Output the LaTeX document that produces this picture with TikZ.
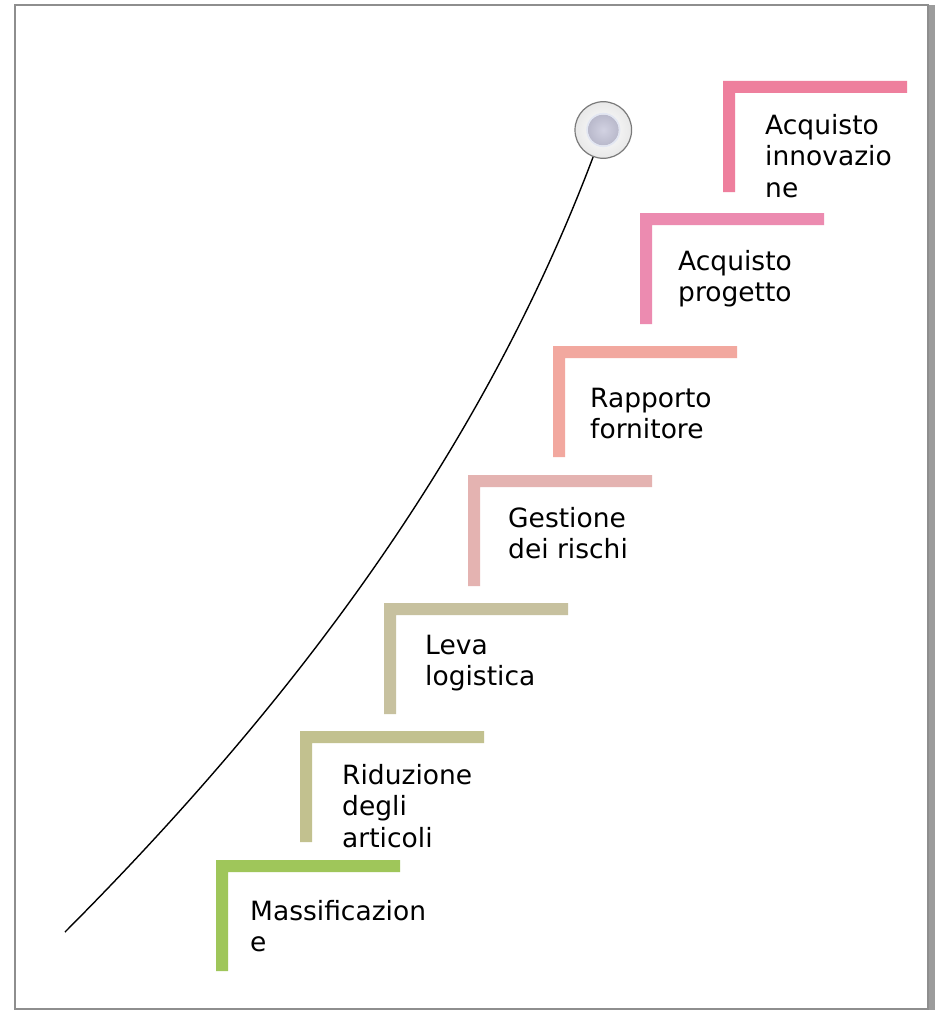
\documentclass[tikz,border=0pt]{standalone}
\usepackage{fontspec}
\setmainfont{DejaVu Sans}
\definecolor{sA}{HTML}{9FC65A}
\definecolor{sB}{HTML}{C2C18F}
\definecolor{sC}{HTML}{C7C19F}
\definecolor{sD}{HTML}{E4B3B1}
\definecolor{sE}{HTML}{F2A89F}
\definecolor{sF}{HTML}{EC8BB0}
\definecolor{sG}{HTML}{EE7F9D}
\definecolor{framegray}{HTML}{8E8E8E}
\definecolor{shadowgray}{HTML}{9C9C9C}
\definecolor{knobrim}{HTML}{7A7A7A}
\definecolor{knobin}{HTML}{D2D2E2}
\definecolor{knobout}{HTML}{A4A4B8}
\definecolor{knobring}{HTML}{E2E6F2}
\tikzset{
  lbl/.style={font=\fontsize{26.5}{31.5}\selectfont, align=left, inner sep=0pt, anchor=base west, text=black},
  stair/.style={fill=#1, draw=none},
  knob/.style={circle, minimum size=56.6pt, inner sep=0pt, draw=knobrim, line width=1.2pt,
    inner color=white, outer color=gray!18,
    path picture={\shade[inner color=knobin, outer color=knobout] (path picture bounding box.center) circle[radius=15.5pt];
                  \draw[knobring, line width=1.6pt] (path picture bounding box.center) circle[radius=16.3pt];}},
  trail/.style={draw=black, line width=1.4pt}
}
\begin{document}
\begin{tikzpicture}[x=1pt,y=-1pt]
\useasboundingbox (0,0) rectangle (936,1011);
\fill[white] (0,0) rectangle (936,1011);
% frame
\fill[shadowgray] (927.5,5) rectangle (935,1010);
\draw[framegray, line width=2pt] (14.8,5.2) rectangle (927.5,1009);
% stairs
\foreach \x/\y/\c in {216/860/sA, 300/731/sB, 384/603/sC, 468/475/sD, 553/346/sE, 640/213/sF, 723/81/sG}{
  \path[stair=\c] (\x,\y) -- ++(184,0) -- ++(0,12) -- ++(-172,0) -- ++(0,99) -- ++(-12,0) -- cycle;
}
% labels (anchored at the baseline of the last line)
\node[lbl] (t1) at (250,951.5) {Massificazion\\e};
\node[lbl] (t2) at (342,847) {Riduzione\\degli\\articoli};
\node[lbl] (t3) at (425,685.5) {Leva\\logistica};
\node[lbl] (t4) at (508,558.5) {Gestione\\dei rischi};
\node[lbl] (t5) at (590,438.5) {Rapporto\\fornitore};
\node[lbl] (t6) at (678,301.5) {Acquisto\\progetto};
\node[lbl] (t7) at (765,197) {Acquisto\\innovazio\\ne};
% knob and trail
\node[knob] (top) at (603.3,130) {};
\coordinate (start) at (65,932);
\draw[trail] (start) .. controls (312,684) and (488,435) .. (top);
\end{tikzpicture}
\end{document}
